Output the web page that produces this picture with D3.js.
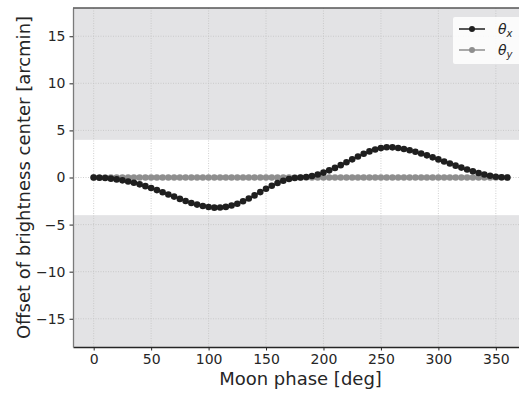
<!DOCTYPE html>
<html>
<head>
<meta charset="utf-8">
<script src="https://cdn.jsdelivr.net/npm/d3@7"></script>
<style>
  body { margin: 0; background: #fff; }
  svg { display: block; font-family: "DejaVu Sans", sans-serif; }
</style>
</head>
<body>
<svg id="chart" width="519" height="395"></svg>
<script>
// moon phase in degrees, sampled every 5 deg
const phase = d3.range(0, 361, 5)
// offset of brightness center along x [arcmin]
const thetaX = [
  0, -0.02, -0.06, -0.12, -0.2, -0.3, -0.42, -0.56, -0.73, -0.92,
  -1.12, -1.34, -1.57, -1.8, -2.03, -2.27, -2.5, -2.7, -2.88, -3.03,
  -3.13, -3.2, -3.19, -3.12, -2.98, -2.78, -2.53, -2.23, -1.9, -1.55,
  -1.2, -0.88, -0.58, -0.34, -0.16, -0.05, 0,
  0.05, 0.16, 0.32, 0.52, 0.76, 1.02, 1.31, 1.62, 1.93, 2.23,
  2.52, 2.77, 2.98, 3.12, 3.21, 3.2, 3.13, 3.03, 2.9, 2.74,
  2.55, 2.35, 2.14, 1.92, 1.7, 1.48, 1.26, 1.05, 0.85, 0.66,
  0.48, 0.32, 0.18, 0.08, 0.02, 0
]
// offset along y is flat zero
const thetaY = phase.map(() => 0)
const xTicks = [0, 50, 100, 150, 200, 250, 300, 350]
const yTicks = [-15, -10, -5, 0, 5, 10, 15]
const band = [-4, 4]

const margin = {left: 73, top: 8, right: -9, bottom: 48}
const width = 519 - margin.left - margin.right
const height = 395 - margin.top - margin.bottom

const svg = d3.select('#chart')
const g = svg.append('g').attr('transform', `translate(${margin.left},${margin.top})`)

const x = d3.scaleLinear().domain([-18, 378]).range([0, width])
const y = d3.scaleLinear().domain([-18, 18]).range([height, 0])

// background + white band
g.append('rect').attr('width', width).attr('height', height).attr('fill', '#e3e3e5')
g.append('rect')
  .attr('x', 0).attr('width', width)
  .attr('y', y(band[1])).attr('height', y(band[0]) - y(band[1]))
  .attr('fill', '#ffffff')

// grid
g.append('g').selectAll('line').data(xTicks).join('line')
  .attr('x1', d => x(d)).attr('x2', d => x(d))
  .attr('y1', 0).attr('y2', height)
  .attr('stroke', '#c4c4c4').attr('stroke-width', 0.8).attr('stroke-dasharray', '1,1.5')
g.append('g').selectAll('line').data(yTicks).join('line')
  .attr('y1', d => y(d)).attr('y2', d => y(d))
  .attr('x1', 0).attr('x2', width)
  .attr('stroke', '#c4c4c4').attr('stroke-width', 0.8).attr('stroke-dasharray', '1,1.5')

// axes
const xAxis = g.append('g').attr('transform', `translate(0,${height})`)
  .call(d3.axisBottom(x).tickValues(xTicks).tickSize(3.5).tickPadding(4).tickSizeOuter(0))
const yAxis = g.append('g')
  .call(d3.axisLeft(y).tickValues(yTicks).tickSize(3.5).tickPadding(4).tickSizeOuter(0)
    .tickFormat(d => d < 0 ? '\u2212' + Math.abs(d) : d))
for (const ax of [xAxis, yAxis]) {
  ax.selectAll('text').attr('font-size', 14).attr('fill', '#262626').attr('font-family', '"DejaVu Sans", sans-serif')
  ax.selectAll('.tick line').attr('stroke', '#262626').attr('stroke-width', 1)
}
xAxis.select('.domain').attr('stroke', '#262626').attr('stroke-width', 1.3)
yAxis.select('.domain').attr('stroke', '#7a7a7a').attr('stroke-width', 1.3)
g.append('line').attr('x1', 0).attr('x2', width).attr('y1', 0).attr('y2', 0)
  .attr('stroke', '#555').attr('stroke-width', 1.3)

// series
const series = [
  {values: thetaY, color: '#8e8e8e'},
  {values: thetaX, color: '#1f1f1f'}
]
const line = d3.line().x((d, i) => x(phase[i])).y(d => y(d))
for (const s of series) {
  g.append('path').datum(s.values).attr('d', line)
    .attr('fill', 'none').attr('stroke', s.color).attr('stroke-width', 1.5)
  g.append('g').selectAll('circle').data(s.values).join('circle')
    .attr('cx', (d, i) => x(phase[i])).attr('cy', d => y(d)).attr('r', 3.3)
    .attr('fill', s.color)
}

// legend
const legend = svg.append('g').attr('transform', 'translate(453,17)')
legend.append('rect').attr('width', 72).attr('height', 47).attr('rx', 2)
  .attr('fill', '#ffffff').attr('fill-opacity', 0.85)
const legendItems = [
  {sub: 'x', color: '#1f1f1f'},
  {sub: 'y', color: '#8e8e8e'}
]
legendItems.forEach((it, i) => {
  const row = legend.append('g').attr('transform', `translate(0,${12 + i * 21})`)
  row.append('line').attr('x1', 6).attr('x2', 32).attr('stroke', it.color).attr('stroke-width', 1.5)
  row.append('circle').attr('cx', 19).attr('r', 3).attr('fill', it.color)
  const t = row.append('text').attr('x', 45).attr('y', 5).attr('font-size', 14)
    .attr('fill', '#262626').attr('font-style', 'italic')
  t.append('tspan').text('\u03b8')
  t.append('tspan').attr('font-size', 10).attr('dy', 3).text(it.sub)
})

// axis labels
svg.append('text').attr('x', margin.left + x(180)).attr('y', 385)
  .attr('text-anchor', 'middle').attr('font-size', 18).attr('fill', '#262626')
  .text('Moon phase [deg]')
svg.append('text').attr('transform', `translate(30,${margin.top + y(0)}) rotate(-90)`)
  .attr('text-anchor', 'middle').attr('font-size', 18).attr('fill', '#262626')
  .text('Offset of brightness center [arcmin]')
</script>
</body>
</html>
